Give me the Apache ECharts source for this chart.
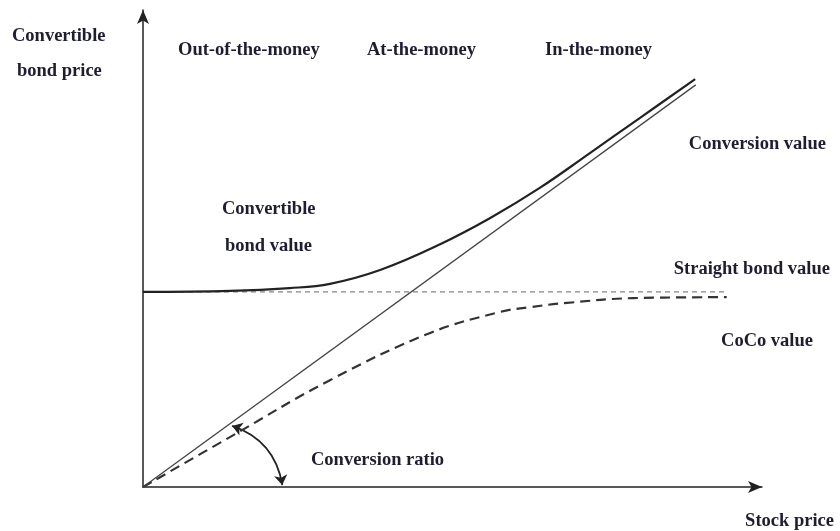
<!DOCTYPE html>
<html>
<head>
<meta charset="utf-8">
<script src="https://cdn.jsdelivr.net/npm/echarts@6/dist/echarts.min.js"></script>
<style>
html, body { margin: 0; padding: 0; background: #fff; }
#main { width: 840px; height: 531px; }
</style>
</head>
<body>
<div id="main"></div>
<script>
//可转债价格示意图

// stock price axis (0-100), bond price axis (0-100)
var bondX = [0, 14.1, 23.7, 30.2, 38.3, 48.0, 56.1, 64.1, 72.2, 80.3, 89.2];
var bondY = [40.9, 41.1, 41.7, 42.6, 45.5, 50.9, 56.4, 62.7, 70.0, 77.4, 85.5];

var convX = [0, 89.3];
var convY = [0, 84.3];

var straightX = [0, 94.3];
var straightY = [40.9, 40.9];

var cocoX = [0, 14.1, 30.2, 46.4, 57.7, 62.5, 68.5, 79.2, 94.3];
var cocoY = [0, 10.5, 22.4, 32.3, 36.7, 37.7, 38.6, 39.6, 39.8];

// conversion ratio arc ends
var ratioArc = [[14.4, 12.8], [22.5, 0.4]];

function pairs(xs, ys) {
    return xs.map(function (x, i) { return [x, ys[i]]; });
}

var textColor = '#1e1e30';
var font = 'bold 18.5px "Liberation Serif", "DejaVu Serif", serif';

function label(text, pos) {
    pos.type = 'text';
    pos.style = { text: text, font: font, fill: textColor };
    return pos;
}

var chart = echarts.init(document.getElementById("main"));
option = {
    animation: false,
    grid: {
        left: 143,
        right: 78,
        top: 10,
        bottom: 44
    },
    xAxis: {
        type: 'value',
        min: 0,
        max: 100,
        axisLine: {
            show: true,
            symbol: ['none', 'arrow'],
            symbolSize: [9, 14],
            lineStyle: { color: '#222', width: 1.5 }
        },
        axisTick: { show: false },
        axisLabel: { show: false },
        splitLine: { show: false }
    },
    yAxis: {
        type: 'value',
        min: 0,
        max: 100,
        axisLine: {
            show: true,
            symbol: ['none', 'arrow'],
            symbolSize: [9, 14],
            lineStyle: { color: '#222', width: 1.5 }
        },
        axisTick: { show: false },
        axisLabel: { show: false },
        splitLine: { show: false }
    },
    series: [
        {
            name: 'Straight bond value',
            type: 'line',
            data: pairs(straightX, straightY),
            showSymbol: false,
            lineStyle: { color: '#666', width: 1, type: [5, 4] }
        },
        {
            name: 'CoCo value',
            type: 'line',
            data: pairs(cocoX, cocoY),
            smooth: 0.4,
            showSymbol: false,
            lineStyle: { color: '#333', width: 2.2, type: [10, 6] }
        },
        {
            name: 'Conversion value',
            type: 'line',
            data: pairs(convX, convY),
            showSymbol: false,
            lineStyle: { color: '#444', width: 1.3 }
        },
        {
            name: 'Convertible bond value',
            type: 'line',
            data: pairs(bondX, bondY),
            smooth: 0.4,
            showSymbol: false,
            lineStyle: { color: '#222', width: 2.2 }
        },
        {
            name: 'Conversion ratio',
            type: 'lines',
            coordinateSystem: 'cartesian2d',
            symbol: ['arrow', 'arrow'],
            symbolSize: 10,
            lineStyle: { color: '#222', width: 1.8, curveness: 0.3, opacity: 1 },
            data: [{ coords: ratioArc }]
        }
    ],
    graphic: [
        label('Convertible', { left: 12, top: 27 }),
        label('bond price', { left: 17, top: 62 }),
        label('Out-of-the-money', { left: 178, top: 41 }),
        label('At-the-money', { left: 367, top: 41 }),
        label('In-the-money', { left: 545, top: 41 }),
        label('Conversion value', { right: 14, top: 135 }),
        label('Convertible', { left: 222, top: 200 }),
        label('bond value', { left: 225, top: 237 }),
        label('Straight bond value', { right: 10, top: 260 }),
        label('CoCo value', { right: 27, top: 332 }),
        label('Conversion ratio', { left: 311, top: 451 }),
        label('Stock price', { right: 6, top: 512 })
    ]
};
chart.setOption(option);
</script>
</body>
</html>
